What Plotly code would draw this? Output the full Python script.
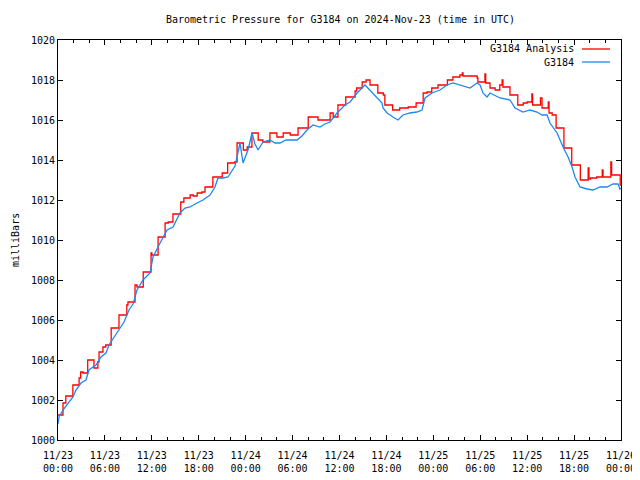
import pandas as pd
import plotly.graph_objects as go

# ---- data (hours after 2024-11-23 00:00 UTC, pressure in mb) ----
analysis_hours = [0, 0.64, 1.0, 1.9, 2.7, 2.9, 3.2, 3.8, 4.6, 5.1, 5.25, 5.75, 6.1, 6.8, 7.8, 8.8, 8.95,
                  9.85, 10.1, 10.9, 11.9, 12.0, 12.8, 13.7, 14.1, 14.7, 15.7, 16.1, 16.9, 17.3, 17.8, 18.4,
                  18.8, 19.8, 21.0, 21.7, 22.6, 22.9, 23.7, 24.2, 24.8, 25.6, 26.2, 27.1, 28.0, 28.8, 29.7,
                  30.7, 32.0, 33.25, 34.8, 35.2, 35.8, 36.8, 38.0, 38.2, 38.9, 39.4, 39.9, 40.9, 41.6, 41.8,
                  42.8, 43.7, 44.8, 45.8, 46.7, 47.2, 47.8, 48.6, 49.8, 50.5, 51.4, 51.7, 51.8, 53.6, 53.7,
                  54.6, 54.7, 55.25, 55.9, 56.5, 56.8, 56.9, 57.8, 58.8, 59.5, 60.0, 60.6, 60.7, 61.6, 61.7,
                  61.9, 62.7, 62.8, 63.2, 63.7, 64.7, 65.7, 66.8, 67.8, 67.9, 68.1, 68.9, 69.6, 69.7, 70.7,
                  70.8, 71.9, 72.0]
analysis_mb = [1001.25, 1001.85, 1002.2, 1002.75, 1003.1, 1003.4, 1003.35, 1004.0, 1003.6, 1003.9, 1004.4,
               1004.65, 1004.75, 1005.6, 1006.25, 1006.75, 1006.9, 1007.75, 1007.65, 1008.4, 1009.35,
               1009.25, 1010.15, 1010.85, 1010.9, 1011.3, 1011.9, 1012.1, 1012.25, 1012.2, 1012.35, 1012.4,
               1012.65, 1013.15, 1013.35, 1013.85, 1013.9, 1014.85, 1014.5, 1014.65, 1015.35, 1015.0,
               1014.9, 1015.35, 1015.15, 1015.35, 1015.25, 1015.6, 1016.15, 1016.0, 1016.35, 1016.15,
               1016.75, 1017.15, 1017.45, 1017.6, 1017.9, 1018.0, 1017.75, 1017.35, 1017.25, 1016.75,
               1016.5, 1016.6, 1016.65, 1016.85, 1017.35, 1017.4, 1017.6, 1017.75, 1018.0, 1018.15,
               1018.25, 1018.35, 1018.2, 1018.1, 1017.9, 1018.3, 1017.85, 1017.6, 1017.5, 1017.75,
               1018.0, 1017.65, 1017.25, 1016.75, 1016.85, 1016.9, 1017.3, 1016.75, 1016.75, 1017.1,
               1016.6, 1016.9, 1016.35, 1016.25, 1015.6, 1014.6, 1013.75, 1013.0, 1013.6, 1013.05,
               1013.1, 1013.15, 1013.5, 1013.15, 1013.9, 1013.25, 1012.75, 1012.75]

obs_hours = [0, 0.13, 0.64, 1.28, 1.92, 2.3, 2.94, 3.58, 3.96, 4.48, 4.86, 5.5, 6.14, 6.52, 7.16, 7.8,
             8.44, 9.08, 9.6, 10.1, 10.87, 11.77, 12.15, 12.79, 13.43, 13.94, 14.71, 15.6, 16.24, 16.88,
             17.78, 18.54, 19.44, 20.08, 20.46, 21.1, 21.74, 22.25, 22.64, 23.28, 23.66, 24.3, 24.81,
             25.19, 25.58, 26.22, 27.11, 27.75, 28.39, 29.16, 29.93, 30.57, 31.2, 31.84, 32.61, 33.5,
             34.15, 34.79, 35.68, 36.7, 37.35, 38.24, 39.26, 39.9, 40.8, 41.44, 41.57, 42.08, 42.84,
             43.48, 44.12, 45.0, 45.9, 46.55, 46.94, 47.83, 48.85, 49.75, 50.52, 51.41, 52.05, 52.69,
             53.59, 53.97, 54.35, 54.87, 55.25, 56.14, 56.53, 57.81, 58.45, 59.47, 60.36, 61.26, 61.9,
             62.54, 62.92, 63.82, 64.2, 64.59, 65.23, 65.74, 66.12, 66.76, 67.66, 68.42, 69.32, 70.21,
             70.98, 71.62, 71.87, 72.0]
obs_mb = [1000.8, 1001.15, 1001.5, 1001.85, 1002.15, 1002.5, 1002.85, 1003.0, 1003.5, 1003.65, 1003.75,
          1004.15, 1004.35, 1004.75, 1005.15, 1005.5, 1005.9, 1006.5, 1006.8, 1007.5, 1008.0, 1008.35,
          1009.15, 1009.65, 1010.15, 1010.5, 1010.65, 1011.35, 1011.6, 1011.65, 1011.85, 1012.0, 1012.25,
          1012.65, 1013.1, 1013.1, 1013.15, 1013.5, 1013.7, 1014.85, 1013.85, 1014.5, 1015.35, 1014.8,
          1014.5, 1014.9, 1015.0, 1014.85, 1014.85, 1015.0, 1015.0, 1015.0, 1015.2, 1015.5, 1015.75,
          1015.65, 1015.8, 1015.9, 1016.35, 1016.75, 1016.9, 1017.35, 1017.75, 1017.5, 1017.1, 1016.85,
          1016.6, 1016.35, 1016.15, 1016.0, 1016.25, 1016.35, 1016.4, 1016.5, 1017.1, 1017.35, 1017.5,
          1017.75, 1017.85, 1017.75, 1017.65, 1017.6, 1017.85, 1017.75, 1017.35, 1017.15, 1017.35,
          1017.15, 1017.1, 1017.0, 1016.6, 1016.4, 1016.5, 1016.4, 1016.25, 1016.25, 1015.85, 1015.35,
          1015.0, 1014.65, 1014.15, 1013.65, 1013.15, 1012.65, 1012.55, 1012.5, 1012.65, 1012.65,
          1012.8, 1012.8, 1012.55, 1012.6]

series_names = ["G3184 Analysis", "G3184"]
series_colors = ["#ff0000", "#1e88f0"]
title_text = "Barometric Pressure for G3184 on 2024-Nov-23 (time in UTC)"
y_label = "milliBars"

start = pd.Timestamp("2024-11-23 00:00")
t_analysis = start + pd.to_timedelta(analysis_hours, unit="h")
t_obs = start + pd.to_timedelta(obs_hours, unit="h")

FONT = "DejaVu Sans Mono"
# page body has an 8px margin; figure is sized so the page still spans 640x480
W, H = 632, 472
L, T, PW, PH = 50, 32, 563, 400

fig = go.Figure()
fig.add_trace(go.Scatter(x=t_analysis, y=analysis_mb, mode="lines", line_shape="hv",
                         line=dict(color=series_colors[0], width=1.3), name=series_names[0]))
fig.add_trace(go.Scatter(x=t_obs, y=obs_mb, mode="lines",
                         line=dict(color=series_colors[1], width=1.3), name=series_names[1]))

fig.update_layout(
    width=W, height=H,
    margin=dict(l=L, r=W - L - PW, t=T, b=H - T - PH, autoexpand=False),
    paper_bgcolor="white", plot_bgcolor="white",
    showlegend=False,
    font=dict(family=FONT, size=10, color="black"),
    title=dict(text=title_text, x=(L + PW / 2 + 1) / W, xanchor="center", y=1 - 11 / H, yanchor="middle",
               font=dict(family=FONT, size=10, color="black")),
)
fig.update_xaxes(
    type="date",
    range=[start, start + pd.Timedelta(hours=72)],
    dtick=6 * 3600 * 1000, tick0=start,
    tickformat="%m/%d<br>%H:%M",
    ticks="inside", ticklen=5, tickwidth=1, tickcolor="black",
    minor=dict(dtick=2 * 3600 * 1000, ticks="inside", ticklen=3, tickcolor="black"),
    showline=True, linecolor="black", linewidth=1, mirror="ticks",
    showgrid=False, zeroline=False, ticklabelstandoff=6,
    tickfont=dict(family=FONT, size=10, color="black"),
)
fig.update_yaxes(
    range=[1000, 1020], dtick=2, tick0=1000,
    ticks="inside", ticklen=5, tickwidth=1, tickcolor="black",
    showline=True, linecolor="black", linewidth=1, mirror="ticks",
    showgrid=False, zeroline=False,
    tickfont=dict(family=FONT, size=10, color="black"),
)

# y-axis label
fig.add_annotation(text=y_label, xref="paper", yref="paper", x=-(L - 7) / PW, y=0.5,
                   textangle=-90, showarrow=False, font=dict(family=FONT, size=10, color="black"),
                   xanchor="center", yanchor="middle")

# legend (gnuplot-style: text then line sample)
for i, (nm, col) in enumerate(zip(series_names, series_colors)):
    ypx = 9 + 13 * i
    yp = (PH - ypx) / PH
    fig.add_annotation(text=nm, xref="paper", yref="paper", x=(576 - 58) / PW, y=yp,
                       showarrow=False, xanchor="right", yanchor="middle",
                       font=dict(family=FONT, size=10, color="black"))
    fig.add_shape(type="line", xref="paper", yref="paper",
                  x0=(582 - 58) / PW, x1=(610 - 58) / PW, y0=yp, y1=yp,
                  line=dict(color=col, width=1.3))

fig.write_html("out.html")
